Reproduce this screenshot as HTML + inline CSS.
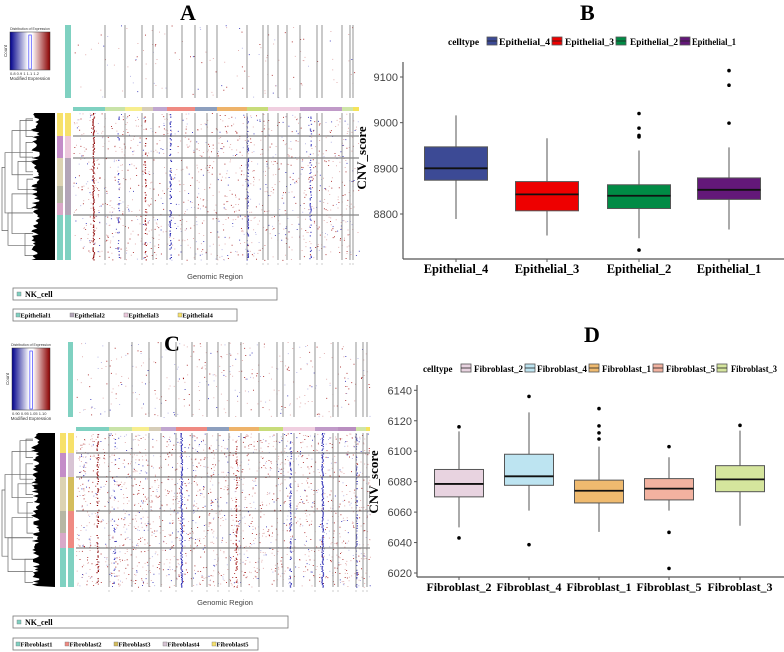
<!DOCTYPE html>
<html><head><meta charset="utf-8">
<style>
html,body{margin:0;padding:0;background:#fff;}
svg{display:block;font-family:"Liberation Sans",sans-serif;}
.ser{font-family:"Liberation Serif",serif;font-weight:bold;}
</style></head>
<body>
<svg id="fig" width="784" height="652" viewBox="0 0 784 652" xmlns="http://www.w3.org/2000/svg">
<defs>
<linearGradient id="keygrad" x1="0" x2="1" y1="0" y2="0">
<stop offset="0" stop-color="#00008b"/><stop offset="0.45" stop-color="#ffffff"/><stop offset="0.55" stop-color="#ffffff"/><stop offset="1" stop-color="#8b0000"/>
</linearGradient>
</defs>
<g class="ser" font-size="22">
<text x="180" y="20">A</text>
<text x="580" y="20">B</text>
<text x="164" y="351">C</text>
<text x="584" y="342">D</text>
</g>
<g id="panelA"></g>
<g id="panelC"></g>
<g id="panelB"></g>
<g id="panelD"></g>
</svg>
<script>
// ---------- Panel B data ----------
const bCats = ["Epithelial_4","Epithelial_3","Epithelial_2","Epithelial_1"];
const bLow = [8789, 8753, 8747, 8766];
const bQ1 = [8874, 8807, 8812, 8832];
const bMed = [8900, 8843, 8840, 8853];
const bQ3 = [8947, 8871, 8864, 8879];
const bHigh = [9016, 8966, 8939, 8946];
const bOut = [[], [], [9020, 8988, 8972, 8969, 8721], [9114, 9082, 8999]];
const bTicks = [8800, 8900, 9000, 9100];
const bColors = ["#3C4A95","#EE0000","#008B45","#631879"];
// ---------- Panel D data ----------
const dCats = ["Fibroblast_2","Fibroblast_4","Fibroblast_1","Fibroblast_5","Fibroblast_3"];
const dLow = [6050, 6061, 6047, 6061, 6051];
const dQ1 = [6070, 6077.6, 6066, 6068, 6073.4];
const dMed = [6078.5, 6083.5, 6074, 6075.4, 6081.5];
const dQ3 = [6088, 6098, 6081, 6082, 6090.5];
const dHigh = [6113, 6125.5, 6103, 6096, 6113.5];
const dOut = [[6116, 6043], [6136, 6038.6], [6128, 6116.6, 6112, 6108], [6103, 6046.7, 6023], [6117]];
const dTicks = [6020, 6040, 6060, 6080, 6100, 6120, 6140];
const dColors = ["#E8D3E0","#BDE4F1","#EFBA6F","#F2B2A0","#D5E59D"];

const NS = "http://www.w3.org/2000/svg";
function mk(parent, tag, attrs, txt){
  const e = document.createElementNS(NS, tag);
  for (const k in attrs) e.setAttribute(k, attrs[k]);
  if (txt !== undefined) e.textContent = txt;
  parent.appendChild(e);
  return e;
}

function boxplot(g, cfg){
  const {cats, low, q1, med, q3, high, outs, ticks, colors, x0, x1, yTop, yBot, vTop, vBot, bw, legY, legX, keyX, textX, legFont, ylabX, labY, catX} = cfg;
  const yS = v => yBot - (v - vBot) / (vTop - vBot) * (yBot - yTop);
  const axisBottom = cfg.axisBottom;
  let e = mk(g,"line",{x1:x0,y1:cfg.axisTop,x2:x0,y2:axisBottom,stroke:"#555","stroke-width":1.2});
  
  
  e = mk(g,"line",{x1:x0,y1:axisBottom,x2:x1,y2:axisBottom,stroke:"#555","stroke-width":1.2});
  
  
  ticks.forEach(t=>{
    const y = yS(t);
    mk(g,"line",{x1:x0-3,y1:y,x2:x0,y2:y,stroke:"#555"});
    const tx = mk(g,"text",{x:x0-5,y:y+4,"text-anchor":"end","font-size":11,fill:"#444"},String(t));
    
    
  });
  const yl = mk(g,"text",{x:ylabX,y:labY,"text-anchor":"middle","font-size":13,class:"ser",transform:`rotate(-90 ${ylabX} ${labY})`},"CNV_score");
  
  
  const lt = mk(g,"text",{x:legX,y:legY+4,"font-size":legFont,class:"ser"},"celltype");
  
  
  cats.forEach((c,i)=>{
    const lg = mk(g,"g",{});
    
    
    mk(lg,"rect",{x:keyX[i],y:legY-4,width:10,height:8,fill:colors[i],stroke:"#555","stroke-width":0.8});
    mk(lg,"line",{x1:keyX[i],y1:legY,x2:keyX[i]+10,y2:legY,stroke:"#222","stroke-width":0.8});
    const w = (i<cats.length-1 ? keyX[i+1] : cfg.lastEnd) - textX[i] - 2;
    mk(lg,"text",{x:textX[i],y:legY+4,"font-size":legFont,class:"ser",textLength:w,lengthAdjust:"spacingAndGlyphs"},c);
  });
  cats.forEach((c,i)=>{
    const cx = catX[i];
    const bg = mk(g,"g",{});
    
    
    mk(bg,"line",{x1:cx,y1:yS(high[i]),x2:cx,y2:yS(q3[i]),stroke:"#555","stroke-width":1});
    mk(bg,"line",{x1:cx,y1:yS(q1[i]),x2:cx,y2:yS(low[i]),stroke:"#555","stroke-width":1});
    mk(bg,"rect",{x:cx-bw/2,y:yS(q3[i]),width:bw,height:yS(q1[i])-yS(q3[i]),fill:colors[i],stroke:"#555","stroke-width":1});
    mk(bg,"line",{x1:cx-bw/2,y1:yS(med[i]),x2:cx+bw/2,y2:yS(med[i]),stroke:"#111","stroke-width":1.8});
    outs[i].forEach(o=>{
      const p = mk(bg,"circle",{cx:cx,cy:yS(o),r:1.8,fill:"#000"});
      
      
    });
    mk(g,"line",{x1:cx,y1:axisBottom,x2:cx,y2:axisBottom+3,stroke:"#555"});
    const xl = mk(g,"text",{x:cx,y:cfg.xlabY,"text-anchor":"middle","font-size":cfg.xFont,class:"ser"},c);
    
    
  });
}

boxplot(document.getElementById('panelB'),{
  cats:bCats,low:bLow,q1:bQ1,med:bMed,q3:bQ3,high:bHigh,outs:bOut,ticks:bTicks,colors:bColors,
  x0:403,x1:784,yTop:77,yBot:214,vTop:9100,vBot:8800,bw:63,axisTop:62,axisBottom:259,
  legY:41,legX:448,keyX:[487,552,616,680],textX:[499,565,630,692],lastEnd:738,legFont:9.5,
  ylabX:366,labY:158,catX:[456,547,639,729],xlabY:273,xFont:12.5
});
boxplot(document.getElementById('panelD'),{
  cats:dCats,low:dLow,q1:dQ1,med:dMed,q3:dQ3,high:dHigh,outs:dOut,ticks:dTicks,colors:dColors,
  x0:417,x1:784,yTop:390.3,yBot:573,vTop:6140,vBot:6020,bw:49,axisTop:385,axisBottom:577,
  legY:368,legX:423,keyX:[461,525,589,653,717],textX:[474,537,602,666,731],lastEnd:779,legFont:9,
  ylabX:378,labY:482,catX:[459,529,599,669,740],xlabY:591,xFont:12
});

// ---------- heatmaps (decorative texture) ----------
let seed = 12345;
function rnd(){ seed = (seed*1103515245 + 12345) % 2147483648; return seed/2147483648; }

function heatPanel(g, c){
  const key = mk(g,"g",{});
  
  
  mk(key,"text",{x:c.key[0]+c.key[2]/2,y:c.key[1]-2,"font-size":3.5,"text-anchor":"middle",fill:"#333"},"Distribution of Expression");
  mk(key,"rect",{x:c.key[0],y:c.key[1],width:c.key[2],height:c.key[3],fill:"url(#keygrad)",stroke:"#333","stroke-width":0.5});
  mk(key,"rect",{x:c.key[0]+c.key[2]*0.47,y:c.key[1]+3,width:2.5,height:c.key[3]-4,fill:"none",stroke:"#44f","stroke-width":0.7});
  mk(key,"text",{x:c.key[0],y:c.key[1]+c.key[3]+5,"font-size":4,fill:"#333"},c.keyLab);
  mk(key,"text",{x:c.key[0]+c.key[2]/2,y:c.key[1]+c.key[3]+10,"font-size":4.5,"text-anchor":"middle",fill:"#333"},"Modified Expression");
  mk(key,"text",{x:c.key[0]-3,y:c.key[1]+c.key[3]/2,"font-size":4.5,"text-anchor":"middle",fill:"#333",transform:`rotate(-90 ${c.key[0]-3} ${c.key[1]+c.key[3]/2})`},"Count");
  const tb = mk(g,"rect",{x:c.refBar[0],y:c.top[1],width:c.refBar[1]-c.refBar[0],height:c.top[2]-c.top[1],fill:"#7fd1c1"});
  
  
  const cb = mk(g,"g",{});
  
  
  c.chromSeg.forEach((s,i)=>{
    const xa = i===0 ? c.hx0 : c.chromSeg[i-1][0];
    mk(cb,"rect",{x:xa,y:c.chromY,width:s[0]-xa,height:4,fill:s[1]});
  });
  [["top",c.top],["main",c.main]].forEach(([nm,r])=>{
    const hg = mk(g,"g",{});
    
    
    const y0=r[1], y1=r[2];
    const n = Math.round((c.hx1-c.hx0)*(y1-y0)*(nm==="top"?c.dTop:c.dMain));
    for(let i=0;i<n;i++){
      const x = c.hx0 + rnd()*(c.hx1-c.hx0);
      const y = y0 + rnd()*(y1-y0);
      const red = rnd()<0.75;
      mk(hg,"rect",{x:x.toFixed(1),y:y.toFixed(1),width:1,height:0.8,fill:red?(rnd()<0.4?"#a01010":"#dca0a0"):(rnd()<0.4?"#2020b0":"#a8a8e0")});
    }
    if(nm==="main"){
      c.stripes.forEach(s=>{
        for(let y=y0;y<y1;y+=1.2){
          if(rnd()<s[2]) mk(hg,"rect",{x:(s[0]+rnd()*1.5-0.7).toFixed(1),y:y.toFixed(1),width:1.3,height:1,fill:s[1]});
        }
      });
      c.hlines.forEach(h=>mk(hg,"line",{x1:c.hx0,y1:h,x2:c.hx1,y2:h,stroke:"#666","stroke-width":0.9}));
    }
    c.vlines.forEach(v=>mk(hg,"line",{x1:v,y1:y0,x2:v,y2:y1,stroke:"#888","stroke-width":0.9}));
    if(nm==="main") c.vlines.forEach(v=>mk(hg,"line",{x1:v,y1:y1+3,x2:v,y2:y1+5,stroke:"#999","stroke-width":0.5}));
  });
  [[c.annL,c.annLx],[c.annR,c.annRx]].forEach(([segs,xx])=>{
    const ag = mk(g,"g",{});
    
    
    let ya = c.main[1];
    segs.forEach(s=>{ mk(ag,"rect",{x:xx,y:ya,width:6,height:s[0]-ya,fill:s[1]}); ya=s[0]; });
  });
  const dg = mk(g,"g",{});
  
  
  const y0=c.main[1], y1=c.main[2];
  let pts = `55,${y0} `;
  for(let y=y0;y<=y1;y+=1.5){ pts += `${(31+rnd()*9).toFixed(1)},${y.toFixed(1)} `; }
  pts += `55,${y1}`;
  mk(dg,"polygon",{points:pts,fill:"#000"});
  const H=y1-y0;
  const br=[[0.1,0.04,0.16,26],[0.3,0.2,0.4,26],[0.55,0.45,0.65,27],[0.9,0.82,0.97,25],[0.12,0.05,0.3,20],[0.42,0.33,0.52,18],[0.68,0.55,0.82,12],[0.27,0.12,0.42,12],[0.47,0.27,0.68,5],[0.76,0.68,0.9,8]];
  br.forEach(b=>{
    const ya=y0+b[1]*H, yb=y0+b[2]*H, x=b[3];
    mk(dg,"path",{d:`M33 ${ya} H${x} V${yb} H33`,fill:"none",stroke:"#666","stroke-width":0.7});
  });
  mk(dg,"path",{d:`M5 ${y0+0.37*H} H2 V${y0+0.8*H} H8`,fill:"none",stroke:"#666","stroke-width":0.7});
  const gl = mk(g,"text",{x:c.gr[0],y:c.gr[1],"font-size":7.5,"text-anchor":"middle",fill:"#444"},"Genomic Region");
  
  
  const l1 = mk(g,"g",{});
  
  
  mk(l1,"rect",{x:13,y:c.leg1[0],width:c.leg1[1]-13,height:12,fill:"#fff",stroke:"#777","stroke-width":0.8});
  mk(l1,"rect",{x:17,y:c.leg1[0]+4,width:4,height:4,fill:"#7fd1c1",stroke:"#777","stroke-width":0.4});
  mk(l1,"text",{x:25,y:c.leg1[0]+9,"font-size":8,class:"ser"},"NK_cell");
  const l2 = mk(g,"g",{});
  
  
  mk(l2,"rect",{x:13,y:c.leg2[0],width:c.leg2[1]-13,height:12,fill:"#fff",stroke:"#777","stroke-width":0.8});
  let lx=16;
  c.legItems.forEach(it=>{
    mk(l2,"rect",{x:lx,y:c.leg2[0]+4,width:4,height:4,fill:it[1],stroke:"#777","stroke-width":0.4});
    mk(l2,"text",{x:lx+4.5,y:c.leg2[0]+8.5,"font-size":6.5,class:"ser"},it[0]);
    lx += it[2];
  });
}

heatPanel(document.getElementById('panelA'),{
  key:[10,32,40,38],keyLab:"0.8    0.9     1     1.1    1.2",
  refBar:[65,71],top:[0,25,98],hx0:73,hx1:359,chromY:107,main:[0,113,260],
  dTop:0.006,dMain:0.03,
  chromSeg:[[105,"#7fd1c1"],[125,"#c9e3a8"],[142,"#f7ee8e"],[153,"#d6cdb8"],[167,"#c0a6cf"],[195,"#ef8a82"],[217,"#8d9fbe"],[247,"#eeb36a"],[268,"#c8dc7a"],[300,"#f0cfe0"],[342,"#c09ac8"],[353,"#cfe5a8"],[359,"#f5e35a"]],
  vlines:[105,125,142,153,167,182,195,207,217,247,263,268,278,287,300,317,322,342,350,353],
  hlines:[136,158,215],
  stripes:[[93,"#8b0000",0.9],[170,"#2020b0",0.6],[247,"#2020b0",0.7],[310,"#4040c0",0.4],[118,"#4040c0",0.25],[145,"#a01010",0.25]],
  annL:[[136,"#f7e16a"],[158,"#c48cc8"],[186,"#dcd3b2"],[203,"#b7b7a3"],[215,"#d9a8c8"],[260,"#7fd1c1"]],annLx:57,
  annR:[[136,"#f7e16a"],[158,"#edc8dc"],[215,"#b3a5b8"],[260,"#7fd1c1"]],annRx:65,
  gr:[215,279],leg1:[288,277],leg2:[309,237],
  legItems:[["Epithelial1","#7fd1c1",54],["Epithelial2","#b3a5b8",54],["Epithelial3","#edc8dc",54],["Epithelial4","#f7e16a",54]]
});
heatPanel(document.getElementById('panelC'),{
  key:[12,348,38,62],keyLab:"0.90  0.95  1.05  1.10",
  refBar:[68,73],top:[0,342,417],hx0:76,hx1:370,chromY:427,main:[0,433,587],
  dTop:0.015,dMain:0.045,
  chromSeg:[[109,"#7fd1c1"],[132,"#c9e3a8"],[149,"#f7ee8e"],[161,"#d6cdb8"],[176,"#c0a6cf"],[207,"#ef8a82"],[229,"#8d9fbe"],[259,"#eeb36a"],[283,"#c8dc7a"],[315,"#f0cfe0"],[338,"#c09ac8"],[356,"#b98ec0"],[366,"#cfe5a8"],[370,"#f5e35a"]],
  vlines:[109,132,149,161,176,192,207,218,229,241,259,277,283,294,315,333,338,356,363,367],
  hlines:[453,477,511,548],
  stripes:[[97,"#8b0000",0.5],[181,"#2020b0",0.95],[322,"#2020b0",0.9],[290,"#3030b8",0.4],[236,"#a01010",0.45],[356,"#3030b8",0.45],[114,"#4040c0",0.2]],
  annL:[[453,"#f7e16a"],[477,"#c48cc8"],[511,"#dcd3b2"],[533,"#b7b7a3"],[548,"#d9a8c8"],[587,"#7fd1c1"]],annLx:60,
  annR:[[453,"#f7e16a"],[477,"#d8c4d4"],[511,"#d4bd5c"],[548,"#ef8a82"],[587,"#7fd1c1"]],annRx:68,
  gr:[225,605],leg1:[616,288],leg2:[638,258],
  legItems:[["Fibroblast1","#7fd1c1",49],["Fibroblast2","#ef8a82",49],["Fibroblast3","#d4bd5c",49],["Fibroblast4","#d8c4d4",49],["Fibroblast5","#f7e16a",49]]
});
</script>
</body></html>
